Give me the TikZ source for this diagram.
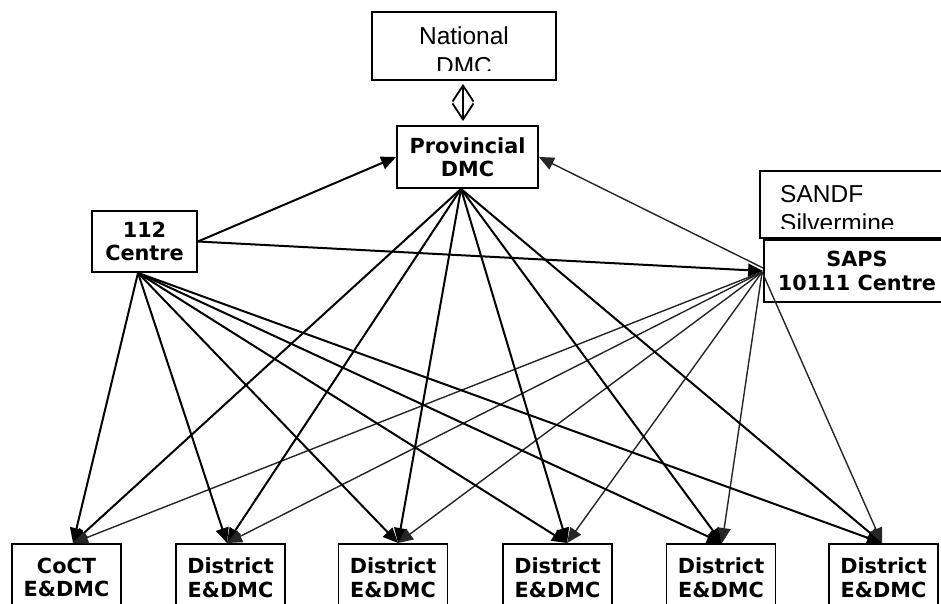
\documentclass[tikz,border=0pt]{standalone}
\usepackage{fontspec}
\setmainfont{DejaVu Sans}
\newfontfamily\arialf{Liberation Sans}
\usetikzlibrary{arrows.meta,calc}
\begin{document}
\begin{tikzpicture}[x=1pt,y=-1pt,
  bbox/.style={draw, line width=1.8pt, inner sep=0pt, align=center,
    font=\bfseries\fontsize{20.8}{23.5}\selectfont},
  lowbox/.style={bbox, anchor=north, minimum width=109pt, inner ysep=14pt},
  tbox/.style={draw, line width=1.8pt},
  plaintext/.style={inner sep=0pt, font=\arialf\fontsize{24.5}{29.5}\selectfont},
  conn/.style={line width=2pt, -{Triangle[length=15pt,width=13pt]}},
  sconn/.style={line width=1.4pt, black!85, -{Triangle[length=15pt,width=13pt]}},
]
\clip (0,0) rectangle (941,603);
\fill[white] (0,0) rectangle (941,603);

% top boxes
\node[tbox, minimum width=184pt, minimum height=68pt] (nat) at (464,46) {};
\begin{scope}
  \clip (nat.north west) rectangle ($(nat.south east)+(0,-10)$);
  \node[plaintext, anchor=north, align=center] (natt) at (464,27) {National\\DMC};
\end{scope}

\node[bbox, minimum width=141pt, minimum height=62pt] (prov) at (467.5,157) {Provincial\\DMC};
\node[bbox, minimum width=105pt, minimum height=61pt] (c112) at (144.5,241.5) {112\\Centre};

\node[tbox, anchor=north west, minimum width=220pt, minimum height=67pt] (sandf) at (759,170) {};
\begin{scope}
  \clip (sandf.north west) rectangle ($(sandf.south east)+(0,-10)$);
  \node[plaintext, anchor=north west, align=left] (sandft) at (780,185) {SANDF\\Silvermine};
\end{scope}

\node[bbox, minimum width=186pt, minimum height=62pt] (saps) at (857,271) {SAPS\\10111 Centre};

% bottom boxes
\node[lowbox] (coct) at (66.5,543) {CoCT\\E\&DMC};
\node[lowbox] (d1) at (230.5,543) {District\\E\&DMC};
\node[lowbox] (d2) at (393,543) {District\\E\&DMC};
\node[lowbox] (d3) at (557.5,543) {District\\E\&DMC};
\node[lowbox] (d4) at (721,543) {District\\E\&DMC};
\node[lowbox] (d5) at (883.5,543) {District\\E\&DMC};

% double arrow national <-> provincial
\draw[line width=1.8pt, {Straight Barb[length=16pt,width=21pt]}-{Straight Barb[length=16pt,width=21pt]}]
  ($(nat.south)+(-1,3)$) -- ($(prov.north -| nat.south)+(-1,-4)$);

% connectors
\draw[conn] (c112.east) -- (prov.west);
\draw[conn] (c112.east) -- (saps.west);
\draw[sconn] ([yshift=3pt]saps.west) -- (prov.east);

\foreach \t/\dx in {coct/6.5, d1/-3.5, d2/5, d3/9.5, d4/1, d5/-1.5}{
  \draw[conn] ([xshift=-6.5pt]c112.south) -- ([xshift=\dx pt]\t.north);
  \draw[conn] ([xshift=-6.5pt]prov.south) -- ([xshift=\dx pt]\t.north);
  \draw[sconn] ([xshift=-1pt,yshift=-1pt]saps.west) -- ([xshift=\dx pt]\t.north);
}
\end{tikzpicture}
\end{document}
